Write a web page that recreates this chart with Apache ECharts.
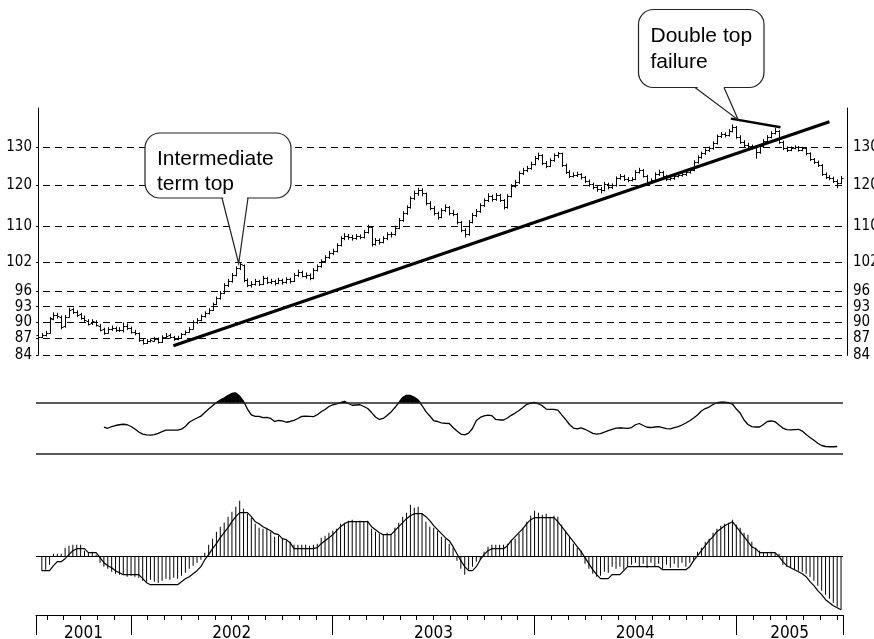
<!DOCTYPE html>
<html><head><meta charset="utf-8">
<script src="https://cdn.jsdelivr.net/npm/echarts@6/dist/echarts.min.js"></script>
<style>html,body{margin:0;padding:0;background:#fff}#c{width:874px;height:639px}</style>
</head><body><div id="c"></div>
<script>
// ---------------- DATA ----------------
// weekly bars, mid-July 2001 .. mid-June 2005
const priceOpen = [87.6,87.3,87.6,88.0,90.6,91.4,91.0,89.3,91.1,92.5,
92.0,91.5,90.9,90.3,89.8,90.1,89.4,88.7,88.1,88.7,
89.0,88.6,88.5,89.4,88.9,88.2,88.0,86.8,86.2,86.5,
86.6,87.0,86.4,87.3,87.6,87.3,86.9,87.1,87.8,88.2,
88.8,90.1,90.4,91.2,91.8,92.4,93.5,94.7,95.7,97.3,
98.1,99.4,100.8,101.4,98.3,97.3,97.5,98.1,97.5,98.7,
97.9,98.1,97.7,98.3,97.9,98.5,98.1,99.4,100.0,99.2,
99.4,98.7,100.4,101.2,102.3,103.2,104.1,104.5,105.8,107.3,
107.8,107.6,107.3,107.8,107.6,108.7,109.9,106.1,106.9,106.5,
107.3,108.2,108.2,109.7,111.5,113.1,114.5,116.7,117.9,118.7,
117.9,115.5,114.3,113.1,112.2,113.8,114.5,113.1,112.9,111.0,
109.2,108.2,111.0,112.7,113.6,115.0,116.2,117.2,116.5,117.4,
116.2,114.5,117.2,119.7,120.7,123.0,123.8,124.3,125.4,126.9,
127.7,125.6,124.9,126.4,127.7,128.2,125.1,123.3,122.3,122.5,
122.7,122.0,121.0,120.2,119.4,118.9,118.7,120.2,119.4,119.9,
121.7,122.3,121.5,121.2,121.5,123.3,123.8,122.3,120.7,121.2,
122.7,123.3,122.3,121.5,121.7,122.3,122.5,122.7,123.3,123.8,
125.9,127.2,128.2,129.1,129.6,131.0,132.9,133.5,133.2,134.4,
135.5,132.7,131.3,130.4,130.1,129.9,128.5,130.1,131.6,132.7,
133.8,134.4,131.3,129.6,129.1,129.6,129.9,129.1,129.6,128.2,
126.6,125.9,125.1,122.7,122.0,121.7,121.0,120.5];
const priceHigh = [88.0,88.0,88.4,91.0,91.9,91.8,91.3,91.4,92.8,92.8,
92.3,91.8,91.3,90.6,90.6,90.4,89.7,89.0,89.1,89.4,
89.2,89.1,90.0,89.8,89.2,88.6,88.1,87.1,86.9,87.0,
87.3,87.2,87.6,88.0,87.9,87.5,87.5,88.0,88.5,89.1,
90.4,90.8,91.5,92.1,92.7,93.8,95.0,96.1,97.7,98.6,
99.8,101.2,102.1,101.6,98.7,98.1,98.6,98.4,99.2,99.0,
98.6,98.4,98.8,98.6,98.9,98.8,99.8,100.5,100.3,99.9,
99.7,100.8,101.6,102.7,103.6,104.5,105.0,106.2,107.8,108.5,
108.3,108.1,108.3,108.2,109.2,110.4,110.0,107.4,107.3,107.8,
108.7,108.8,110.2,112.0,113.6,115.0,117.2,118.6,119.3,119.2,
118.1,116.0,114.8,113.5,114.3,115.2,114.8,113.9,113.2,111.3,
109.6,111.5,113.2,114.1,115.5,116.7,117.9,117.6,118.0,117.8,
116.5,117.7,120.2,121.3,123.5,124.4,124.9,126.0,127.5,128.4,
128.0,126.2,126.9,128.2,128.6,128.4,125.5,123.8,123.2,123.4,
123.0,122.3,121.4,120.6,120.0,119.5,120.8,120.6,120.4,122.2,
122.8,122.6,122.0,122.0,123.8,124.4,124.1,122.6,121.7,123.2,
123.9,123.6,122.6,122.3,122.8,123.0,123.2,123.8,124.3,126.4,
127.7,128.7,129.6,130.1,131.5,133.4,134.1,134.0,134.9,136.2,
135.8,133.2,131.8,131.1,130.6,130.2,130.6,132.1,133.2,134.3,
135.2,134.6,131.7,130.1,130.1,130.4,130.2,130.0,129.9,128.5,
127.0,126.3,125.4,123.2,122.5,122.1,121.4,122.3];
const priceLow = [86.9,87.1,87.4,87.9,90.4,90.7,88.7,89.0,90.9,91.6,
91.0,90.5,90.1,89.4,89.5,89.2,88.3,87.7,87.9,88.4,
88.2,88.2,88.1,88.6,87.9,87.6,86.4,85.9,86.0,86.3,
86.4,86.1,86.2,87.1,87.0,86.6,86.7,86.9,87.6,88.0,
88.7,89.7,90.2,90.9,91.5,92.2,93.3,94.4,95.5,96.9,
97.8,99.1,100.4,97.9,96.9,96.8,97.2,97.1,97.3,97.5,
97.5,97.2,97.5,97.4,97.6,97.6,97.9,99.0,98.9,98.6,
98.3,98.5,100.1,100.9,101.9,102.8,103.6,104.2,105.5,106.9,
107.0,106.8,107.0,107.1,107.3,108.4,105.5,105.7,105.9,106.2,
106.9,107.5,107.9,109.4,111.1,112.7,114.2,116.3,117.3,117.2,
115.0,113.8,112.6,111.6,111.9,113.4,112.6,112.4,110.5,108.7,
107.5,107.9,110.7,112.2,113.2,114.6,115.8,115.9,116.1,115.8,
114.0,114.2,116.9,119.3,120.3,122.5,123.3,123.9,125.0,126.4,
125.1,124.3,124.6,126.0,127.0,124.6,122.8,121.8,121.9,122.0,
121.4,120.5,119.6,118.9,118.3,117.9,118.4,118.9,119.0,119.6,
121.3,121.0,120.7,120.9,121.2,122.9,121.9,120.2,120.3,120.9,
122.3,121.8,121.0,121.1,121.3,121.9,122.1,122.3,122.9,123.5,
125.5,126.8,127.8,128.6,129.2,130.6,132.4,132.6,132.8,134.0,
132.2,130.8,129.9,129.6,129.3,126.8,128.1,129.7,131.2,132.3,
133.4,130.8,129.1,128.6,128.8,129.3,128.7,128.8,127.7,126.2,
125.4,124.6,122.3,121.5,121.2,120.5,119.2,120.2];
const priceClose = [87.3,87.6,88.0,90.8,91.4,91.2,89.1,91.0,92.4,92.0,
91.4,90.8,90.4,89.7,90.2,89.5,88.6,88.0,88.8,88.9,
88.6,88.6,89.3,88.9,88.2,88.0,86.7,86.2,86.5,86.7,
86.9,86.4,87.3,87.5,87.3,86.9,87.1,87.8,88.2,88.8,
90.1,90.4,91.2,91.8,92.4,93.5,94.7,95.7,97.3,98.1,
99.4,100.8,101.7,98.3,97.3,97.5,98.1,97.5,98.7,97.9,
98.1,97.7,98.3,97.9,98.5,98.1,99.4,100.0,99.2,99.4,
98.7,100.4,101.2,102.3,103.2,104.1,104.5,105.8,107.3,107.8,
107.6,107.3,107.8,107.6,108.7,109.9,106.1,106.9,106.5,107.3,
108.2,108.2,109.7,111.5,113.1,114.5,116.7,117.9,118.7,117.9,
115.5,114.3,113.1,112.2,113.8,114.5,113.1,112.9,111.0,109.2,
108.2,111.0,112.7,113.6,115.0,116.2,117.2,116.5,117.4,116.2,
114.5,117.2,119.7,120.7,123.0,123.8,124.3,125.4,126.9,127.7,
125.6,124.9,126.4,127.7,128.2,125.1,123.3,122.3,122.5,122.7,
122.0,121.0,120.2,119.4,118.9,118.7,120.2,119.4,119.9,121.7,
122.3,121.5,121.2,121.5,123.3,123.8,122.3,120.7,121.2,122.7,
123.3,122.3,121.5,121.7,122.3,122.5,122.7,123.3,123.8,125.9,
127.2,128.2,129.1,129.6,131.0,132.9,133.5,133.2,134.4,135.5,
132.7,131.3,130.4,130.1,129.9,128.5,130.1,131.6,132.7,133.8,
134.4,131.3,129.6,129.1,129.6,129.9,129.1,129.6,128.2,126.6,
125.9,125.1,122.7,122.0,121.7,121.0,120.5,121.7];

// oscillator (starts at week 17)
const oscStart = 17;
const oscValues = [50.9,49.9,51.3,52.1,52.7,53.1,52.7,51.3,49.3,46.9,
45.3,44.6,44.4,44.8,45.9,47.3,48.4,48.5,48.5,48.5,
49.2,51.3,54.7,56.5,58.1,59.5,62.4,65.2,67.8,70.4,
72.4,74.0,76.0,77.6,78.0,75.3,71.2,65.2,60.5,59.3,
59.3,58.3,58.6,57.7,55.3,56.1,55.8,54.7,55.3,56.2,
57.7,59.4,59.5,59.3,59.1,60.7,63.0,64.8,67.2,68.6,
69.4,70.4,71.4,69.6,68.2,68.4,68.6,67.2,65.6,62.4,
58.9,56.9,57.7,60.1,62.8,66.4,70.2,74.4,76.1,76.0,
74.6,72.4,68.0,63.1,59.7,55.9,55.3,54.2,53.9,53.7,
50.5,47.7,45.3,44.7,46.1,49.7,56.1,58.5,59.7,60.3,
59.9,56.9,56.5,56.5,58.1,60.2,62.0,64.0,66.4,69.0,
70.0,70.5,69.4,67.8,65.2,65.0,65.0,64.4,60.5,56.9,
52.9,50.1,49.5,50.3,49.1,47.5,45.9,45.2,45.7,46.9,
48.0,49.1,50.0,50.3,50.1,49.9,50.5,52.7,53.7,52.1,
50.7,50.5,50.9,51.2,50.5,49.6,49.5,50.5,51.2,52.5,
54.1,55.9,58.1,60.5,63.6,65.6,66.8,68.8,70.2,70.6,
70.6,70.2,69.2,65.2,62.0,56.5,52.9,51.2,50.9,50.9,
52.9,55.3,55.7,55.1,52.5,50.1,48.9,48.6,48.9,49.1,
47.7,45.0,42.6,40.3,38.0,36.2,35.4,35.2,35.2,35.4];
const oscLevels = [30, 70];

// histogram and its smoothing line (week 0 empty)
const histValues = [null,-1.4,-1.3,-0.8,0.3,0.3,0.3,0.9,1.1,1.2,
1.2,1.2,0.6,0.4,0.5,0.2,-0.6,-1.0,-1.2,-1.5,
-1.7,-1.8,-1.8,-2.0,-1.9,-2.0,-2.1,-2.4,-2.5,-2.3,
-2.5,-2.6,-2.4,-2.2,-2.3,-2.1,-2.2,-1.9,-1.6,-1.2,
-0.9,-0.6,-0.3,0.4,1.2,1.8,2.5,3.0,3.4,4.0,
4.5,5.0,5.6,4.8,4.3,3.9,3.3,2.9,2.8,2.9,
2.5,2.0,2.1,1.8,1.6,1.5,1.2,1.2,1.2,1.2,
1.1,1.2,1.3,1.9,2.1,2.4,2.6,2.8,3.3,3.4,
3.6,3.7,3.5,3.6,3.5,3.6,2.8,2.5,2.3,2.2,
2.4,2.3,2.9,3.4,4.0,4.4,5.2,4.9,5.0,4.3,
3.5,3.0,2.9,2.6,2.0,1.8,1.3,0.9,-0.4,-1.2,
-1.8,-1.3,-1.0,-0.5,-0.3,0.5,1.0,1.2,1.2,1.2,
1.2,1.3,1.7,1.8,2.3,2.9,3.5,4.1,4.6,4.4,
4.2,4.3,4.0,4.1,4.0,3.2,2.6,2.0,1.3,0.9,
0.6,-0.7,-1.2,-1.7,-2.0,-1.9,-1.5,-1.6,-1.0,-1.2,
-1.0,-1.3,-1.0,-0.8,-0.6,-1.0,-0.7,-1.1,-0.6,-1.0,
-0.7,-1.2,-0.8,-1.1,-0.7,-1.1,-0.6,-1.0,-0.6,-0.3,
0.5,0.9,1.5,1.8,2.4,2.8,3.1,3.3,3.4,3.7,
3.2,2.9,2.4,2.2,1.5,0.9,0.6,0.4,0.4,0.5,
0.4,0.3,-0.8,-1.0,-1.1,-1.3,-1.4,-1.5,-1.7,-2.0,
-2.4,-2.9,-3.4,-3.8,-4.2,-4.6,-5.0,-5.3];
const signalValues = [null,-1.4,-1.4,-1.4,-0.9,-0.5,-0.5,-0.2,0.2,0.6,
0.8,0.8,0.8,0.4,0.4,0.4,-0.1,-0.6,-0.9,-1.1,
-1.4,-1.6,-1.8,-1.8,-1.8,-1.8,-1.8,-2.2,-2.6,-2.8,
-2.8,-2.8,-2.8,-2.8,-2.8,-2.8,-2.8,-2.5,-2.2,-2.0,
-1.7,-1.4,-1.0,-0.3,0.2,0.8,1.3,1.9,2.4,2.9,
3.5,4.0,4.4,4.4,4.4,4.0,3.5,3.3,3.0,2.8,
2.6,2.3,2.2,1.8,1.7,1.4,0.8,0.8,0.8,0.8,
0.8,0.8,0.9,1.3,1.6,1.9,2.2,2.6,3.0,3.3,
3.5,3.5,3.5,3.5,3.5,3.5,3.0,2.7,2.4,2.2,
2.2,2.2,2.6,3.0,3.4,3.8,4.1,4.3,4.3,4.3,
4.0,3.6,3.1,2.7,2.3,1.9,1.6,1.0,0.3,-0.4,
-1.0,-1.4,-1.4,-1.0,-0.3,0.2,0.6,0.8,0.8,0.8,
0.8,1.1,1.6,2.0,2.4,2.8,3.3,3.7,3.9,3.9,
3.9,3.9,3.9,3.9,3.5,3.0,2.5,2.0,1.5,1.0,
0.5,-0.1,-0.7,-1.3,-1.8,-2.2,-2.2,-2.2,-1.8,-1.8,
-1.8,-1.4,-1.0,-1.0,-1.0,-1.0,-1.0,-1.0,-1.0,-1.0,
-1.0,-1.3,-1.3,-1.3,-1.3,-1.3,-1.3,-1.3,-1.0,-0.4,
0.1,0.6,1.1,1.6,2.0,2.5,2.8,3.1,3.3,3.5,
3.0,2.5,2.0,1.5,1.0,0.8,0.4,0.4,0.4,0.4,
0.4,0.0,-0.5,-0.9,-1.1,-1.3,-1.5,-1.7,-2.0,-2.5,
-2.9,-3.4,-3.8,-4.3,-4.6,-4.9,-5.1,-5.3];

// annotation lines in data space [week, price]
const trendLine = [[34.9, 85.7], [204.0, 137.0]];
const doubleTopLine = [[178.6, 137.9], [191.4, 135.4]];

// axis ticks / labels
const priceTicks = [84, 87, 90, 93, 96, 102, 110, 120, 130];
const yearLabels = ['2001', '2002', '2003', '2004', '2005'];
// date axis in months counted from Jan 1 2001
const dateMin = 6.36, dateMax = 54.35;
const yearBounds = [6.36, 12, 24, 36, 48, 54.35];
const yearLabelPos = [9.18, 18, 30, 42, 51.175];

// ---------------- BUILD ----------------
const N = priceClose.length;
const ohlc = priceClose.map((c, i) => [i, priceOpen[i], priceHigh[i], priceLow[i], c]);
const oscData = oscValues.map((v, k) => [oscStart + k, v]);
const oscSegs = [];
for (let k = 0; k < oscValues.length - 1; k++) oscSegs.push([oscStart + k, oscValues[k], oscValues[k + 1]]);
const histData = [], sigData = [];
histValues.forEach((v, i) => { if (v !== null) histData.push([i, v]); });
signalValues.forEach((v, i) => { if (v !== null) sigData.push([i, v]); });
const monthTicks = [];
for (let m = 7; m <= 54; m++) if (m % 12 !== 0) monthTicks.push(m);

const NARROW = "'Liberation Sans Narrow','Arial Narrow','DejaVu Sans Condensed',sans-serif";
const SANS = "'Liberation Sans',Arial,sans-serif";
const GL = 36, GR = 874 - 843;
const gridBase = {left: GL, right: GR, containLabel: false, outerBoundsMode: 'none'};
const xHidden = (g) => ({gridIndex: g, type: 'value', min: -0.5, max: N - 0.5, show: false});
const priceAxis = (pos, offset, margin) => ({
  gridIndex: 0, type: 'log', min: 84, max: 141, position: pos, offset: offset,
  axisLine: {show: true, lineStyle: {color: '#000', width: 1}},
  axisTick: {show: false}, splitLine: {show: false},
  axisLabel: {customValues: priceTicks, margin: margin, color: '#000', fontSize: 15, fontFamily: NARROW,
    formatter: v => String(Math.round(v))}
});

const OSC_T = oscLevels[1];

const option = {
  animation: false,
  backgroundColor: '#fff',
  grid: [
    Object.assign({top: 108, height: 247.3}, gridBase),
    Object.assign({top: 365.3, height: 125.7}, gridBase),
    Object.assign({top: 496.7, height: 120}, gridBase),
    Object.assign({top: 600, height: 15}, gridBase)
  ],
  xAxis: [
    xHidden(0), xHidden(1), xHidden(2),
    {gridIndex: 3, type: 'value', min: dateMin, max: dateMax, position: 'bottom',
      axisLine: {show: true, lineStyle: {color: '#000', width: 1}},
      axisTick: {show: true, customValues: yearBounds, length: 20, lineStyle: {color: '#000', width: 1}},
      axisLabel: {show: true, customValues: yearLabelPos, margin: 10, color: '#000', fontSize: 17, fontFamily: NARROW,
        formatter: v => { const k = yearLabelPos.findIndex(p => Math.abs(p - v) < 0.01); return k >= 0 ? yearLabels[k] : ''; }},
      splitLine: {show: false}},
    {gridIndex: 3, type: 'value', min: dateMin, max: dateMax, position: 'bottom',
      axisLine: {show: false},
      axisTick: {show: true, customValues: monthTicks, length: 5, lineStyle: {color: '#000', width: 1}},
      axisLabel: {show: false}, splitLine: {show: false}}
  ],
  yAxis: [
    priceAxis('left', 0, 4),
    priceAxis('right', 4, 6),
    {gridIndex: 1, type: 'value', min: 0, max: 100, show: false},
    {gridIndex: 2, type: 'value', min: -6, max: 6, show: false},
    {gridIndex: 3, type: 'value', min: 0, max: 1, show: false}
  ],
  series: [
    {
      type: 'custom', xAxisIndex: 0, yAxisIndex: 0, data: ohlc, z: 3,
      renderItem: function (params, api) {
        const i = api.value(0);
        const pH = api.coord([i, api.value(2)]);
        const pL = api.coord([i, api.value(3)]);
        const pO = api.coord([i, api.value(1)]);
        const pC = api.coord([i, api.value(4)]);
        const x = Math.round(pH[0]) + 0.5;
        const st = {stroke: '#000', lineWidth: 1};
        return {type: 'group', children: [
          {type: 'line', shape: {x1: x, y1: pH[1], x2: x, y2: pL[1]}, style: st},
          {type: 'line', shape: {x1: x - 2, y1: Math.round(pO[1]) + 0.5, x2: x, y2: Math.round(pO[1]) + 0.5}, style: st},
          {type: 'line', shape: {x1: x, y1: Math.round(pC[1]) + 0.5, x2: x + 2, y2: Math.round(pC[1]) + 0.5}, style: st}
        ]};
      },
      markLine: {
        silent: true, symbol: 'none', label: {show: false}, z: 1,
        lineStyle: {color: '#000', width: 1, type: [7, 5], dashOffset: 5},
        data: priceTicks.map(v => ({yAxis: v}))
      }
    },
    {type: 'line', xAxisIndex: 0, yAxisIndex: 0, data: trendLine, symbol: 'none', z: 5,
      lineStyle: {color: '#000', width: 3}},
    {type: 'line', xAxisIndex: 0, yAxisIndex: 0, data: doubleTopLine, symbol: 'none', z: 5,
      lineStyle: {color: '#000', width: 2.5}},
    {
      type: 'custom', xAxisIndex: 1, yAxisIndex: 2, data: oscSegs, z: 3,
      renderItem: function (params, api) {
        const i = api.value(0), a = api.value(1), b = api.value(2), T = OSC_T;
        if (a <= T && b <= T) return;
        let pts;
        if (a > T && b > T) pts = [[i, T], [i, a], [i + 1, b], [i + 1, T]];
        else if (a > T) { const t = (a - T) / (a - b); pts = [[i, T], [i, a], [i + t, T]]; }
        else { const t = (T - a) / (b - a); pts = [[i + t, T], [i + 1, b], [i + 1, T]]; }
        return {type: 'polygon', shape: {points: pts.map(p => api.coord(p))}, style: {fill: '#000', stroke: '#000', lineWidth: 0.6}};
      }
    },
    {type: 'line', xAxisIndex: 1, yAxisIndex: 2, data: oscData, symbol: 'none', z: 4,
      lineStyle: {color: '#000', width: 1.3},
      markLine: {silent: true, symbol: 'none', label: {show: false},
        lineStyle: {color: '#222', width: 1.5, type: 'solid'},
        data: oscLevels.map(v => ({yAxis: v}))}},
    {type: 'bar', xAxisIndex: 2, yAxisIndex: 3, data: histData, barWidth: 1, z: 2,
      itemStyle: {color: '#000'}},
    {type: 'line', xAxisIndex: 2, yAxisIndex: 3, data: sigData, symbol: 'none', z: 4,
      lineStyle: {color: '#000', width: 1.2},
      markLine: {silent: true, symbol: 'none', label: {show: false},
        lineStyle: {color: '#000', width: 1.2, type: 'solid'},
        data: [{yAxis: 0}]}}
  ],
  graphic: [
    // bubble 1
    {type: 'rect', z: 100, shape: {x: 145, y: 133, width: 146, height: 65, r: 15},
      style: {fill: '#fff', stroke: '#222', lineWidth: 1.2}},
    {type: 'polygon', z: 101, shape: {points: [[222.8, 196], [247.2, 196], [238.7, 262]]},
      style: {fill: '#fff'}},
    {type: 'polyline', z: 102, shape: {points: [[222, 198], [238.7, 263.3], [248, 198]]},
      style: {stroke: '#222', lineWidth: 1.2, fill: null}},
    {type: 'text', z: 103, style: {text: 'Intermediate', x: 157, y: 159.5, font: '21px ' + SANS, fill: '#000', verticalAlign: 'middle'}},
    {type: 'text', z: 103, style: {text: 'term top', x: 157, y: 184.5, font: '21px ' + SANS, fill: '#000', verticalAlign: 'middle'}},
    // bubble 2
    {type: 'rect', z: 100, shape: {x: 638.5, y: 9.5, width: 125.5, height: 78, r: 15},
      style: {fill: '#fff', stroke: '#222', lineWidth: 1.2}},
    {type: 'polygon', z: 101, shape: {points: [[695.8, 86], [723.4, 86], [737.5, 119]]},
      style: {fill: '#fff'}},
    {type: 'polyline', z: 102, shape: {points: [[695, 87.5], [738.3, 120], [724, 87.5]]},
      style: {stroke: '#222', lineWidth: 1.2, fill: null}},
    {type: 'text', z: 103, style: {text: 'Double top', x: 650.5, y: 36, font: '21px ' + SANS, fill: '#000', verticalAlign: 'middle'}},
    {type: 'text', z: 103, style: {text: 'failure', x: 650.5, y: 62.7, font: '21px ' + SANS, fill: '#000', verticalAlign: 'middle'}}
  ]
};

const chart = echarts.init(document.getElementById('c'), null, {renderer: 'canvas'});
chart.setOption(option);
</script>
</body></html>
